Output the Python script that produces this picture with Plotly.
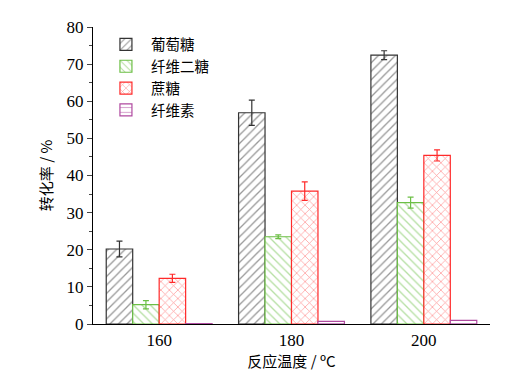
import plotly.graph_objects as go

temps = [160, 180, 200]
series_names = ["葡萄糖", "纤维二糖", "蔗糖", "纤维素"]
glucose = [20.2, 56.9, 72.4]
glucose_err = [2.1, 3.4, 1.2]
cellobiose = [5.2, 23.5, 32.7]
cellobiose_err = [1.1, 0.5, 1.5]
sucrose = [12.3, 35.8, 45.4]
sucrose_err = [1.1, 2.5, 1.5]
cellulose = [0.1, 0.7, 1.0]
cellulose_err = [0, 0, 0]

values = [glucose, cellobiose, sucrose, cellulose]
errors = [glucose_err, cellobiose_err, sucrose_err, cellulose_err]
colors = ["#333333", "#6cbf45", "#ff2a2a", "#b04aa0"]
shapes = ["/", "\\", "x", "-"]

fig = go.Figure()
for name, v, e, c, s in zip(series_names, values, errors, colors, shapes):
    fig.add_trace(go.Bar(
        x=temps, y=v, name=name,
        error_y=dict(type="data", array=e, color=c, thickness=1.2, width=3,
                     visible=any(x > 0 for x in e)),
        marker=dict(color="white", line=dict(color=c, width=1.2),
                    pattern=dict(shape=s, fgcolor=c, bgcolor="white", size=6, solidity=0.22)),
    ))

serif = "Times New Roman, Liberation Serif, serif"
cjk = "Noto Sans CJK SC"
fig.update_layout(
    width=517, height=369,
    margin=dict(l=85, r=35, t=19, b=53),
    paper_bgcolor="white", plot_bgcolor="white",
    barmode="group", bargap=0.2, bargroupgap=0,
    font=dict(family=serif, size=17, color="black"),
    showlegend=True,
    legend=dict(x=0.02, y=0.995, xanchor="left", yanchor="top",
                font=dict(family=cjk, size=14.5),
                bgcolor="rgba(0,0,0,0)", tracegroupgap=0, itemwidth=40),
    xaxis=dict(range=[150, 210], tickvals=temps, ticktext=[str(t) for t in temps],
               showline=True, linecolor="black", linewidth=1.2, ticks="",
               showgrid=False, zeroline=False, automargin=False,
               title=dict(text="反应温度 / ºC", font=dict(family=cjk, size=15), standoff=5)),
    yaxis=dict(range=[0, 80], dtick=10, showline=True, linecolor="black", linewidth=1.2,
               ticks="outside", ticklen=5, tickwidth=1.2, showgrid=False, zeroline=False,
               automargin=False,
               minor=dict(dtick=5, ticks="outside", ticklen=3, tickwidth=1.2),
               title=dict(text="转化率 / %", font=dict(family=cjk, size=15), standoff=10)),
)

fig.write_html("out.html")
